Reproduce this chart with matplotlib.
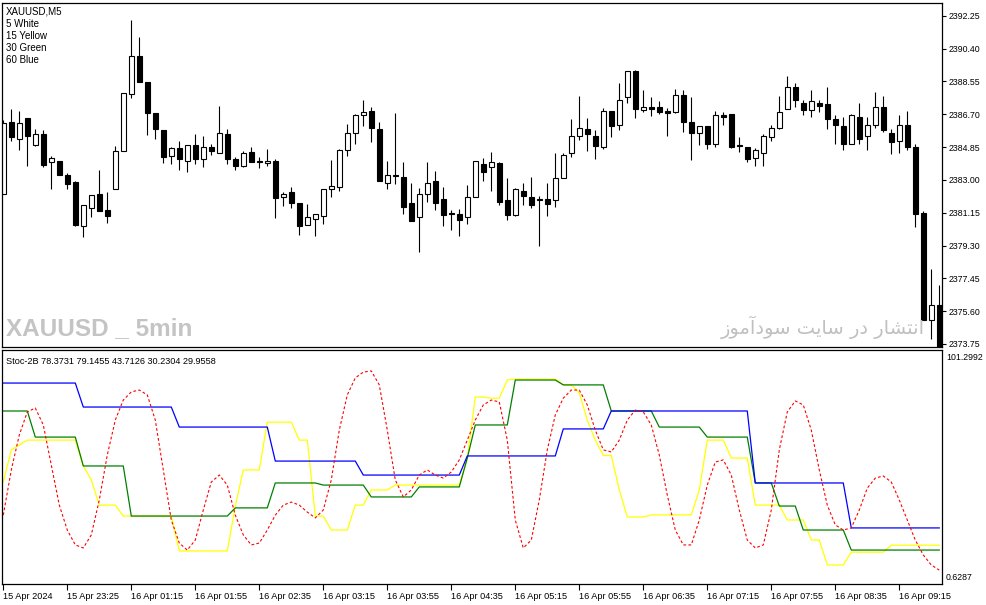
import matplotlib
matplotlib.use('Agg')
import matplotlib.pyplot as plt
import numpy as np

plt.rcParams['font.family'] = ['Liberation Sans', 'DejaVu Sans']

# ---- XAUUSD M5 candles ----
opens = [2382.23, 2386.24, 2385.28, 2386.46, 2384.98, 2385.58, 2383.98, 2384.06, 2383.27, 2382.87,
         2380.41, 2381.44, 2382.18, 2381.29, 2382.51, 2384.60, 2387.82, 2389.96, 2388.51, 2386.76,
         2385.80, 2384.34, 2384.77, 2384.09, 2384.94, 2384.15, 2384.88, 2384.54, 2385.58, 2384.15,
         2383.79, 2384.56, 2384.04, 2383.96, 2384.06, 2382.04, 2382.31, 2381.67, 2380.47, 2380.82,
         2380.97, 2382.51, 2382.61, 2384.71, 2385.62, 2386.63, 2386.91, 2385.86, 2382.85, 2383.27,
         2383.19, 2381.72, 2380.88, 2382.23, 2382.91, 2381.95, 2381.16, 2381.05, 2380.88, 2382.04,
         2383.92, 2383.70, 2383.94, 2381.89, 2381.03, 2382.40, 2382.01, 2381.91, 2381.95, 2381.84,
         2383.13, 2384.54, 2385.45, 2385.84, 2385.50, 2384.86, 2386.91, 2386.07, 2387.65, 2389.11,
         2386.95, 2387.08, 2387.08, 2386.91, 2386.84, 2387.76, 2386.29, 2385.67, 2386.01, 2385.05,
         2386.63, 2386.69, 2384.96, 2384.88, 2384.24, 2384.54, 2385.39, 2385.94, 2386.97, 2388.21,
         2387.36, 2386.95, 2387.36, 2387.25, 2386.41, 2386.01, 2385.00, 2386.57, 2385.50, 2386.07,
         2387.08, 2385.62, 2385.20, 2386.12, 2384.83, 2381.12, 2375.09, 2375.97]
highs = [2386.35, 2386.97, 2386.91, 2386.46, 2385.86, 2385.80, 2384.36, 2384.06, 2383.38, 2382.93,
         2381.56, 2382.12, 2383.57, 2382.31, 2384.90, 2387.87, 2392.01, 2391.05, 2388.51, 2386.76,
         2385.80, 2384.86, 2385.18, 2384.94, 2385.58, 2385.45, 2385.05, 2387.18, 2385.86, 2384.30,
         2384.62, 2384.85, 2384.28, 2384.73, 2384.17, 2382.31, 2382.59, 2381.67, 2381.63, 2381.05,
         2382.51, 2384.11, 2384.73, 2386.14, 2386.69, 2387.50, 2387.10, 2386.26, 2384.06, 2386.76,
         2384.00, 2382.82, 2382.53, 2384.00, 2383.49, 2382.59, 2381.29, 2381.35, 2382.70, 2384.04,
         2384.26, 2384.56, 2384.00, 2383.10, 2382.53, 2382.82, 2383.15, 2382.08, 2382.82, 2384.49,
         2384.49, 2386.42, 2387.72, 2386.46, 2385.79, 2387.03, 2386.91, 2388.44, 2389.11, 2389.17,
         2388.04, 2387.65, 2387.42, 2387.03, 2388.10, 2388.04, 2387.65, 2386.01, 2386.01, 2386.86,
         2386.80, 2386.69, 2385.39, 2384.88, 2384.77, 2385.56, 2386.07, 2387.72, 2388.83, 2388.44,
         2387.53, 2388.04, 2387.53, 2388.21, 2386.63, 2386.52, 2386.69, 2387.36, 2386.52, 2387.93,
         2387.72, 2385.84, 2386.63, 2386.86, 2385.00, 2381.27, 2377.95, 2377.10]
lows = [2382.18, 2385.20, 2384.70, 2383.79, 2384.92, 2383.74, 2382.50, 2383.25, 2382.46, 2380.41,
        2379.79, 2380.88, 2381.25, 2380.58, 2382.51, 2384.60, 2387.63, 2388.53, 2385.54, 2385.32,
        2383.96, 2383.91, 2383.53, 2383.42, 2383.87, 2383.74, 2384.38, 2384.54, 2383.91, 2383.53,
        2383.74, 2384.02, 2383.68, 2383.79, 2380.86, 2381.54, 2381.42, 2379.90, 2380.47, 2379.84,
        2380.50, 2382.04, 2382.38, 2384.36, 2385.01, 2386.05, 2385.15, 2382.95, 2382.50, 2382.78,
        2381.05, 2380.69, 2378.94, 2381.76, 2381.31, 2380.41, 2380.18, 2379.84, 2380.50, 2382.04,
        2382.95, 2382.38, 2381.59, 2380.75, 2380.97, 2381.59, 2381.42, 2379.28, 2380.97, 2381.48,
        2383.13, 2384.30, 2385.26, 2384.64, 2384.19, 2384.75, 2385.43, 2385.82, 2387.35, 2386.50,
        2386.84, 2386.61, 2386.69, 2385.48, 2386.78, 2385.71, 2384.13, 2384.98, 2384.75, 2384.83,
        2386.07, 2384.77, 2384.58, 2384.02, 2383.79, 2383.79, 2385.17, 2385.88, 2386.97, 2387.08,
        2386.63, 2386.56, 2386.84, 2385.88, 2385.03, 2384.70, 2385.00, 2385.03, 2384.70, 2385.95,
        2385.71, 2384.47, 2384.53, 2384.70, 2380.35, 2375.09, 2374.05, 2373.40]
closes = [2386.18, 2385.39, 2386.18, 2385.47, 2385.58, 2383.85, 2384.21, 2383.25, 2382.74, 2380.45,
          2381.56, 2382.12, 2381.25, 2380.97, 2384.60, 2387.87, 2389.96, 2388.53, 2386.78, 2385.84,
          2384.30, 2384.77, 2384.15, 2384.94, 2384.15, 2384.88, 2384.60, 2385.67, 2384.19, 2383.81,
          2384.51, 2384.02, 2384.00, 2384.09, 2381.99, 2382.23, 2381.71, 2380.41, 2380.88, 2381.05,
          2382.51, 2382.63, 2384.68, 2385.64, 2386.65, 2386.80, 2385.94, 2382.95, 2383.30, 2383.23,
          2381.48, 2380.69, 2382.18, 2382.80, 2381.71, 2381.03, 2381.09, 2380.75, 2382.01, 2384.04,
          2383.47, 2383.98, 2381.76, 2381.03, 2382.48, 2382.10, 2381.59, 2381.84, 2381.65, 2383.13,
          2384.38, 2385.50, 2385.90, 2385.60, 2384.92, 2386.91, 2386.05, 2387.53, 2389.11, 2387.01,
          2387.08, 2387.01, 2386.84, 2386.78, 2387.76, 2386.27, 2385.67, 2386.01, 2385.03, 2386.63,
          2386.52, 2384.86, 2384.92, 2384.19, 2384.66, 2385.50, 2385.90, 2386.80, 2388.21, 2387.48,
          2386.95, 2387.42, 2387.14, 2386.41, 2386.07, 2385.03, 2386.63, 2385.33, 2386.12, 2387.08,
          2385.82, 2385.11, 2386.12, 2384.86, 2381.09, 2375.09, 2375.92, 2373.45]

price_ticks = [2373.75, 2375.60, 2377.45, 2379.30, 2381.15, 2383.00,
               2384.85, 2386.70, 2388.55, 2390.40, 2392.25]

time_labels = ['15 Apr 2024', '15 Apr 23:25', '16 Apr 01:15', '16 Apr 01:55', '16 Apr 02:35',
               '16 Apr 03:15', '16 Apr 03:55', '16 Apr 04:35', '16 Apr 05:15', '16 Apr 05:55',
               '16 Apr 06:35', '16 Apr 07:15', '16 Apr 07:55', '16 Apr 08:35', '16 Apr 09:15']
label_step = 8

# ---- Stoc-2B multi timeframe lines ----
# red dashed (one value per bar)
red = [30.2, 49.6, 64.6, 74.5, 76.2, 68.9, 51.7, 34.5, 23.8, 17.4,
       16.1, 21.7, 36.7, 56.0, 71.0, 79.6, 83.1, 83.9, 81.8, 71.0,
       49.6, 28.1, 18.2, 15.2, 19.5, 32.4, 44.4, 47.4, 43.1, 30.2,
       21.7, 17.4, 18.2, 23.8, 30.2, 34.5, 35.8, 34.5, 31.5, 29.0,
       32.4, 45.3, 66.7, 81.8, 89.1, 91.6, 92.1, 86.1, 66.7, 45.3,
       38.0, 41.0, 47.4, 49.6, 47.4, 46.1, 48.7, 53.9, 62.4, 71.0,
       77.5, 79.6, 78.8, 62.4, 28.1, 16.1, 19.5, 36.7, 58.2, 73.2,
       80.4, 83.9, 83.9, 77.5, 66.7, 58.2, 57.3, 62.4, 71.0, 75.3,
       74.5, 68.9, 56.0, 38.8, 23.8, 17.4, 17.4, 28.1, 43.1, 53.0,
       53.9, 47.4, 32.4, 19.5, 16.1, 17.4, 32.4, 58.2, 74.5, 79.2,
       77.5, 66.7, 49.6, 34.5, 26.0, 23.8, 24.7, 32.4, 41.8, 46.1,
       47.0, 44.4, 36.7, 28.1, 19.5, 13.1, 8.8, 6.6]

# higher timeframe lines hold a level for several bars: (level, number of bars)
yellow_levels = [44.4, 58.2, 60.3, 62.4, 51.3, 45.3, 34.5, 29.8, 14.8, 34.1,
                 49.6, 70.1, 62.4, 29.8, 23.8, 34.5, 41.0, 43.1, 54.7, 80.9,
                 80.4, 88.2, 88.6, 86.1, 82.7, 71.0, 62.4, 55.8, 41.0, 29.4,
                 30.3, 41.0, 62.4, 54.7, 34.5, 28.1, 19.5, 8.8, 14.3, 17.3]
yellow_bars = [1, 1, 1, 7, 1, 1, 3, 7, 7, 1,
               3, 4, 2, 2, 3, 2, 3, 9, 1, 2,
               2, 1, 6, 2, 1, 1, 1, 2, 1, 3,
               6, 1, 3, 3, 4, 3, 2, 3, 5, 7]
green_levels = [74.9, 63.7, 51.3, 29.8, 33.3, 44.0, 43.1, 38.0, 42.3, 54.7,
                68.9, 88.2, 86.1, 74.9, 68.0, 63.7, 44.0, 34.1, 23.8, 15.2]
green_bars = [4, 6, 6, 13, 5, 6, 6, 6, 6, 1,
              5, 6, 6, 6, 6, 6, 3, 3, 6, 12]
blue_levels = [86.9, 76.6, 68.0, 53.4, 47.4, 55.6, 67.2, 74.9, 44.0, 24.7]
blue_bars = [10, 12, 12, 11, 13, 12, 6, 18, 12, 12]

ind_min, ind_max = 0.6287, 101.2992

# ---- figure, laid out in pixels like the terminal window ----
W, H = 987, 605
fig = plt.figure(figsize=(W / 100, H / 100), dpi=100)
fig.patch.set_facecolor('white')


def px_axes(x0, y0, x1, y1):
    return fig.add_axes([x0 / W, 1 - y1 / H, (x1 - x0) / W, (y1 - y0) / H])


ax1 = px_axes(2.5, 3, 942, 347)
ax2 = px_axes(2.5, 349.5, 942, 584)

n = len(opens)
x = np.arange(n)
o = np.array(opens); c = np.array(closes)
up = c >= o
bottom = np.minimum(o, c)
height = np.abs(c - o)

ax1.vlines(x, lows, highs, color='black', lw=0.8, zorder=1)
ax1.bar(x[up], height[up], bottom=bottom[up], width=0.56, facecolor='white',
        edgecolor='black', linewidth=0.8, zorder=2)
ax1.bar(x[~up], height[~up], bottom=bottom[~up], width=0.56, facecolor='black',
        edgecolor='black', linewidth=0.8, zorder=2)

ax1.set_xlim(-0.1, 117.34)
ax1.set_ylim(2373.58, 2392.97)
ax1.set_xticks([])
ax1.yaxis.tick_right()
ax1.set_yticks(price_ticks)
ax1.set_yticklabels(['%.2f' % p for p in price_ticks])
ax1.tick_params(axis='y', direction='out', length=3, width=0.8, pad=1.5, labelsize=6.3)

for ax in (ax1, ax2):
    for s in ax.spines.values():
        s.set_linewidth(0.9)
        s.set_color('black')

# legend texts
fig.text(6 / W, 1 - 11 / H, 'XAUUSD,M5', fontsize=7, va='center')
for k, t in enumerate(['5 White', '15 Yellow', '30 Green', '60 Blue']):
    fig.text(6 / W, 1 - (24 + 12 * k) / H, t, fontsize=7, va='center')

# watermarks
fig.text(6 / W, 1 - 329 / H, 'XAUUSD _ 5min', fontsize=17.5, fontweight='bold',
         color='#c4c4c4', va='center', family=['Liberation Sans'])
# Persian "انتشار در سایت سودآموز" in shaped presentation forms, visual order
fa_text = ('\uFEAF\uFEEE\uFEE3\uFE81\uFEA9\uFEEE\uFEB3 '
           '\uFE96\uFEF3\uFE8E\uFEB3 \uFEAD\uFEA9 '
           '\uFEAD\uFE8E\uFEB8\uFE98\uFEE7\uFE8D')
fig.text(925 / W, 1 - 327 / H, fa_text, fontsize=14, color='#c0c0c0',
         ha='right', va='center', family=['DejaVu Sans'])

# indicator pane
yellow = np.repeat(yellow_levels, yellow_bars)
green = np.repeat(green_levels, green_bars)
blue = np.repeat(blue_levels, blue_bars)
ax2.plot(x, yellow, color='#ffff00', lw=0.9)
ax2.plot(x, green, color='#008000', lw=0.9)
ax2.plot(x, blue, color='#0000ff', lw=0.9)
ax2.plot(x, red, color='#ff0000', lw=0.8, linestyle=(0, (2.5, 2)))
ax2.set_xlim(-0.1, 117.34)
ax2.set_ylim(ind_min, ind_max)
ax2.set_yticks([])
ax2.set_xticks(np.arange(len(time_labels)) * label_step)
ax2.set_xticklabels(time_labels)
for lbl in ax2.get_xticklabels():
    lbl.set_horizontalalignment('left')
ax2.tick_params(axis='x', direction='out', length=4, width=0.8, pad=2, labelsize=6.6)

fig.text(6 / W, 1 - 361 / H, 'Stoc-2B 78.3731 79.1455 43.7126 30.2304 29.9558',
         fontsize=6.6, va='center')
fig.text(946 / W, 1 - 357 / H, '%.4f' % ind_max, fontsize=6.3, va='center')
fig.text(946 / W, 1 - 577 / H, '%.4f' % ind_min, fontsize=6.3, va='center')

fig.savefig('out.png', dpi=100)
